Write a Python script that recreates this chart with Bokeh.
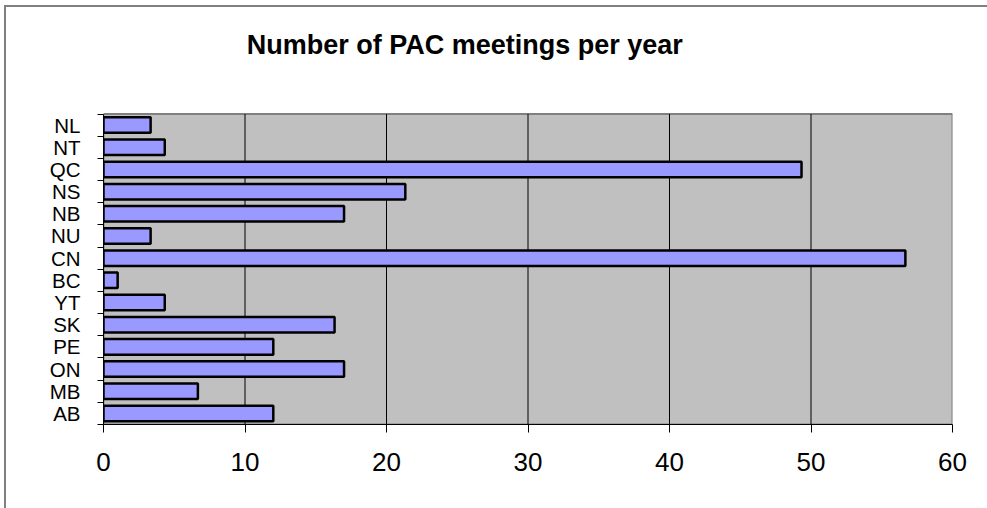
from bokeh.plotting import figure
from bokeh.models import Range1d, FixedTicker, ColumnDataSource, Label
from bokeh.embed import file_html
from bokeh.resources import INLINE

# Jurisdictions from bottom to top, and average PAC meetings per year
provinces = ["AB", "MB", "ON", "PE", "SK", "YT", "BC", "CN", "NU", "NB", "NS", "QC", "NT", "NL"]
meetings = [12, 6.67, 17, 12, 16.33, 4.33, 1, 56.67, 3.33, 17, 21.33, 49.33, 4.33, 3.33]
x_ticks = [0, 10, 20, 30, 40, 50, 60]
chart_title = "Number of PAC meetings per year"

FONT = "Liberation Sans"
N = len(provinces)
X_MAX = 60
# the frame reaches up to the chart heading; the grey plot area covers 0..N only
Y_TOP = N + 4.803

positions = [i + 0.5 for i in range(N)]
source = ColumnDataSource(dict(y=positions, right=meetings))

p = figure(
    width=981, height=501,
    output_backend="svg", toolbar_location=None,
    x_range=Range1d(0, X_MAX), y_range=Range1d(0, Y_TOP),
    min_border_left=97, min_border_right=37, min_border_top=0, min_border_bottom=86,
    background_fill_color="white", border_fill_color="white",
)
p.margin = (5, 0, 0, 4)
p.styles = {
    "border-top": "2px solid #808080",
    "border-left": "2px solid #808080",
    "border-right": "0px none",
    "border-bottom": "0px none",
    "box-sizing": "content-box",
}
p.outline_line_color = None

# grey plot area with its grey outline
p.quad(left=0, right=X_MAX, bottom=0, top=N,
       fill_color="#C0C0C0", line_color="#808080", line_width=2)

# vertical grid lines at the inner x ticks
inner = x_ticks[1:-1]
p.segment(x0=inner, x1=inner, y0=[0] * len(inner), y1=[N] * len(inner),
          line_color="black", line_width=1)

p.hbar(y="y", left=0, right="right", height=0.7, source=source,
       fill_color="#9999FF", line_color="black", line_width=2.5)

# chart heading
p.add_layout(Label(
    x=10.12, y=17.12,
    text=chart_title, text_font=FONT, text_font_size="27px",
    text_font_style="bold", text_color="black", text_baseline="alphabetic",
))

# x axis
p.xaxis.ticker = FixedTicker(ticks=x_ticks)
p.xaxis.major_tick_out = 8
p.xaxis.major_tick_in = 0
p.xaxis.minor_tick_line_color = None
p.xaxis.axis_line_color = "black"
p.xaxis.major_tick_line_color = "black"
p.xaxis.major_label_text_font = FONT
p.xaxis.major_label_text_font_size = "26px"
p.xaxis.major_label_text_color = "black"
p.xaxis.major_label_standoff = 20

# y axis: labels at bar centres, ticks on category boundaries
p.yaxis.bounds = (0, N)
p.yaxis.ticker = FixedTicker(ticks=positions, minor_ticks=list(range(N + 1)))
p.yaxis.major_label_overrides = {pos: name for pos, name in zip(positions, provinces)}
p.yaxis.major_tick_line_color = None
p.yaxis.minor_tick_line_color = "black"
p.yaxis.minor_tick_out = 6
p.yaxis.minor_tick_in = 0
p.yaxis.axis_line_color = "black"
p.yaxis.major_label_text_font = FONT
p.yaxis.major_label_text_font_size = "20.5px"
p.yaxis.major_label_text_color = "black"
p.yaxis.major_label_standoff = 17

p.xgrid.grid_line_color = None
p.ygrid.grid_line_color = None

open("out.html", "w").write(file_html(p, INLINE))
